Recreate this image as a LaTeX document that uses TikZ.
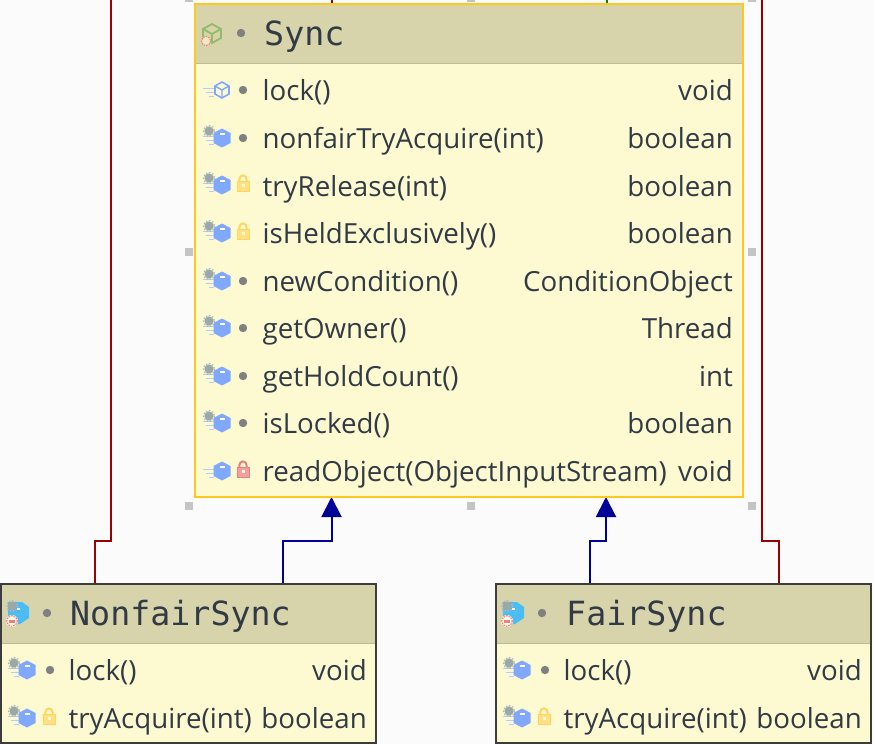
\documentclass[tikz,border=0pt]{standalone}
\usepackage{fontspec}
\usetikzlibrary{arrows.meta,calc}
\newfontfamily\bodyf{Open Sans}
\newfontfamily\headf{DejaVu Sans Mono}
\definecolor{bgc}{HTML}{FBFBFB}
\definecolor{headc}{HTML}{D7D3AB}
\definecolor{bodyc}{HTML}{FDFAD2}
\definecolor{sel}{HTML}{FFC81E}
\definecolor{dk}{HTML}{3C3C3C}
\definecolor{txt}{HTML}{323A45}
\definecolor{redl}{HTML}{990000}
\definecolor{bluel}{HTML}{000099}
\definecolor{greenl}{HTML}{008A00}
\definecolor{hexb}{HTML}{80A8FF}
\definecolor{cyanb}{HTML}{4CBCF5}
\definecolor{gearc}{HTML}{9AA8A8}
\definecolor{dotc}{HTML}{808080}
\definecolor{lockc}{HTML}{FFD65C}
\definecolor{lockr}{HTML}{EE7F80}
\definecolor{handle}{HTML}{C4C4C4}
\definecolor{greeni}{HTML}{92BC6A}
\tikzset{
  x=1pt,y=-1pt,
  boxn/.style={draw=#1,line width=2pt,fill=bodyc,inner sep=0pt,outer sep=0pt,anchor=north west},
  rowl/.style={anchor=base west,inner sep=0pt,xshift=-0.6pt,text=txt,font=\bodyf\fontsize{27.7}{30}\selectfont},
  rowr/.style={anchor=base east,inner sep=0pt,text=txt,font=\bodyf\fontsize{27.7}{30}\selectfont},
  headt/.style={anchor=base west,inner sep=0pt,text=txt,font=\headf\fontsize{33.3}{36}\selectfont},
  conn/.style={line width=2pt,line join=miter},
  inh/.style={conn,draw=bluel,-{Triangle[width=20pt,length=20pt,fill=bluel]}},
  hnd/.style={fill=handle,draw=none,minimum size=8pt,inner sep=0pt,outer sep=0pt},
}
\newcommand{\hexa}[2]{\fill[hexb] (#1-8.5,#2-5)--(#1,#2-9.5)--(#1+8.5,#2-5)--(#1+8.5,#2+5)--(#1,#2+9.5)--(#1-8.5,#2+5)--cycle;
  \fill[white] (#1-2.5,#2-5) rectangle (#1+2.5,#2-3.5);}
\newcommand{\stripes}[3]{\fill[#3] (#1-19,#2-2) rectangle (#1-8,#2-0.6);
  \fill[#3] (#1-16,#2+2) rectangle (#1-8,#2+3.4);
  \fill[#3] (#1-13,#2+6) rectangle (#1-8,#2+7.4);}
\newcommand{\gear}[2]{\fill[gearc] (#1,#2) circle (4.6);
  \draw[gearc!80,line width=1.2pt,dash pattern=on 1.6pt off 1.6pt] (#1,#2) circle (5.6);}
\newcommand{\abstractm}[2]{\stripes{#1}{#2}{hexb!60}\hexa{#1}{#2}\gear{#1-13}{#2-7}}
\newcommand{\plainm}[2]{\stripes{#1}{#2}{hexb!60}\hexa{#1}{#2}}
\newcommand{\outlinem}[2]{\stripes{#1}{#2}{hexb!60}
  \draw[hexb,line width=1.6pt] (#1-7,#2-4)--(#1,#2-8)--(#1+7,#2-4)--(#1+7,#2+4)--(#1,#2+8)--(#1-7,#2+4)--cycle;
  \draw[hexb,line width=1.4pt] (#1-7,#2-4)--(#1,#2)--(#1+7,#2-4) (#1,#2)--(#1,#2+8);}
\newcommand{\dotm}[2]{\fill[dotc] (#1,#2) circle (4.2);}
\newcommand{\lockm}[3]{\draw[#3,line width=2pt] (#1-3.6,#2-2)--(#1-3.6,#2-4) arc[start angle=180,end angle=360,radius=3.6]--(#1+3.6,#2-2);
  \fill[#3!75] (#1-6,#2-2) rectangle (#1+6,#2+8);
  \draw[#3,line width=1pt] (#1-6,#2-2) rectangle (#1+6,#2+8);
  \fill[bodyc] (#1-1.5,#2+1) rectangle (#1+1.5,#2+4);}
\newcommand{\classm}[2]{%
  \fill[cyanb] (#1-6,#2-11)--(#1+8,#2-11)--(#1+15,#2-6)--(#1+15,#2+5)--(#1+6,#2+11)--(#1-6,#2+11)--cycle;
  \fill[white] (#1+3,#2-5) rectangle (#1+6,#2-3);
  \gear{#1-2}{#2-7}
  \fill[bodyc!60!white] (#1-2,#2+8) circle (6);
  \draw[lockr,line width=1.1pt,dash pattern=on 1.6pt off 1pt] (#1-2,#2+8) circle (5.3);
  \fill[lockr] (#1-5,#2+7) rectangle (#1+1,#2+9.5);}
\begin{document}
\begin{tikzpicture}
\useasboundingbox[fill=bgc] (0,0) rectangle (874,744);
\coordinate (topL) at (110.5,0);
\coordinate (topR) at (761.5,0);
\coordinate (topA) at (331.5,0);
\coordinate (topG) at (607,0);
\node[boxn=sel,minimum width=548pt,minimum height=493pt] (sync) at (195,4) {};
\node[boxn=dk,minimum width=375pt,minimum height=159pt] (nonfair) at (1,584) {};
\node[boxn=dk,minimum width=375pt,minimum height=159pt] (fair) at (496,584) {};
\draw[conn,redl] (topL) -- (110.5,540.5) -- (94.5,540.5) -- (nonfair.north west -| 94.5,0);
\draw[conn,redl] (topR) -- (761.5,540.5) -- (778.5,540.5) -- (fair.north west -| 778.5,0);
\draw[conn,redl] (topA) -- (sync.north west -| topA);
\draw[conn,greenl] (topG) -- (sync.north west -| topG);
\draw[inh] (nonfair.north west -| 282.5,0) -- (282.5,540.5) -- (331.5,540.5) -- (sync.south west -| 331.5,0);
\draw[inh] (fair.north west -| 589.5,0) -- (589.5,540.5) -- (606,540.5) -- (sync.south west -| 606,0);
\fill[headc] (196,5) rectangle (742,63);
\draw[line width=1pt,headc!88!black] (196,63.5)--(742,63.5);
\fill[headc] (2,585) rectangle (375,643);
\draw[line width=1pt,headc!88!black] (2,643.5)--(375,643.5);
\fill[headc] (497,585) rectangle (870,643);
\draw[line width=1pt,headc!88!black] (497,643.5)--(870,643.5);
\draw[sel,line width=2pt] (sync.north west) rectangle (sync.south east);
\draw[dk,line width=2pt] (nonfair.north west) rectangle (nonfair.south east);
\draw[dk,line width=2pt] (fair.north west) rectangle (fair.south east);
\foreach \n/\hx/\hy in {h1/188.5/-2,h2/470.5/-2,h3/751.5/-2,h4/188.5/252,h5/751.5/252,h6/188.5/505.5,h7/470.5/505.5,h8/751.5/505.5}
  \node[hnd] (\n) at (\hx,\hy) {};
\draw[greeni,line width=1.8pt] (203,29)--(212,24)--(221,29)--(221,38)--(212,43)--(203,38)--cycle (203,29)--(212,34)--(221,29) (212,34)--(212,43);
\fill[bodyc!60!headc] (206,41) circle (5);
\draw[lockr,line width=1.1pt,dash pattern=on 1.6pt off 1pt] (206,41) circle (4.6);
\dotm{241}{33}
\node[headt] (tsync) at (264,45) {Sync};
\outlinem{222}{90}\dotm{243}{90}
\abstractm{222}{138}\dotm{243}{138}
\abstractm{222}{185}\lockm{243}{183}{lockc}
\abstractm{222}{233}\lockm{243}{231}{lockc}
\abstractm{222}{281}\dotm{243}{281}
\abstractm{222}{328}\dotm{243}{328}
\abstractm{222}{376}\dotm{243}{376}
\abstractm{222}{423}\dotm{243}{423}
\plainm{222}{471}\lockm{243}{469}{lockr}
\node[rowl] (a1) at (263,100) {lock()};
\node[rowr] (b1) at (733,100) {void};
\node[rowl] (a2) at (263,148) {nonfairTryAcquire(int)};
\node[rowr] (b2) at (733,148) {boolean};
\node[rowl] (a3) at (263,196) {tryRelease(int)};
\node[rowr] (b3) at (733,196) {boolean};
\node[rowl] (a4) at (263,243) {isHeldExclusively()};
\node[rowr] (b4) at (733,243) {boolean};
\node[rowl] (a5) at (263,291) {newCondition()};
\node[rowr] (b5) at (733,291) {ConditionObject};
\node[rowl] (a6) at (263,338) {getOwner()};
\node[rowr] (b6) at (733,338) {Thread};
\node[rowl] (a7) at (263,386) {getHoldCount()};
\node[rowr] (b7) at (733,386) {int};
\node[rowl] (a8) at (263,433) {isLocked()};
\node[rowr] (b8) at (733,433) {boolean};
\node[rowl] (a9) at (263,481) {readObject(ObjectInputStream)};
\node[rowr] (b9) at (733,481) {void};
\classm{14}{613}\dotm{47}{613}
\node[headt] (tnon) at (70,625) {NonfairSync};
\abstractm{27}{670}\dotm{50}{670}
\abstractm{27}{718}\lockm{49}{716}{lockc}
\node[rowl] (c1) at (69,680) {lock()};
\node[rowr] (d1) at (367,680) {void};
\node[rowl] (c2) at (69,728) {tryAcquire(int)};
\node[rowr] (d2) at (367,728) {boolean};
\classm{509}{613}\dotm{542}{613}
\node[headt] (tfair) at (566,625) {FairSync};
\abstractm{522}{670}\dotm{545}{670}
\abstractm{522}{718}\lockm{544}{716}{lockc}
\node[rowl] (e1) at (564,680) {lock()};
\node[rowr] (f1) at (862,680) {void};
\node[rowl] (e2) at (564,728) {tryAcquire(int)};
\node[rowr] (f2) at (862,728) {boolean};
\end{tikzpicture}
\end{document}
